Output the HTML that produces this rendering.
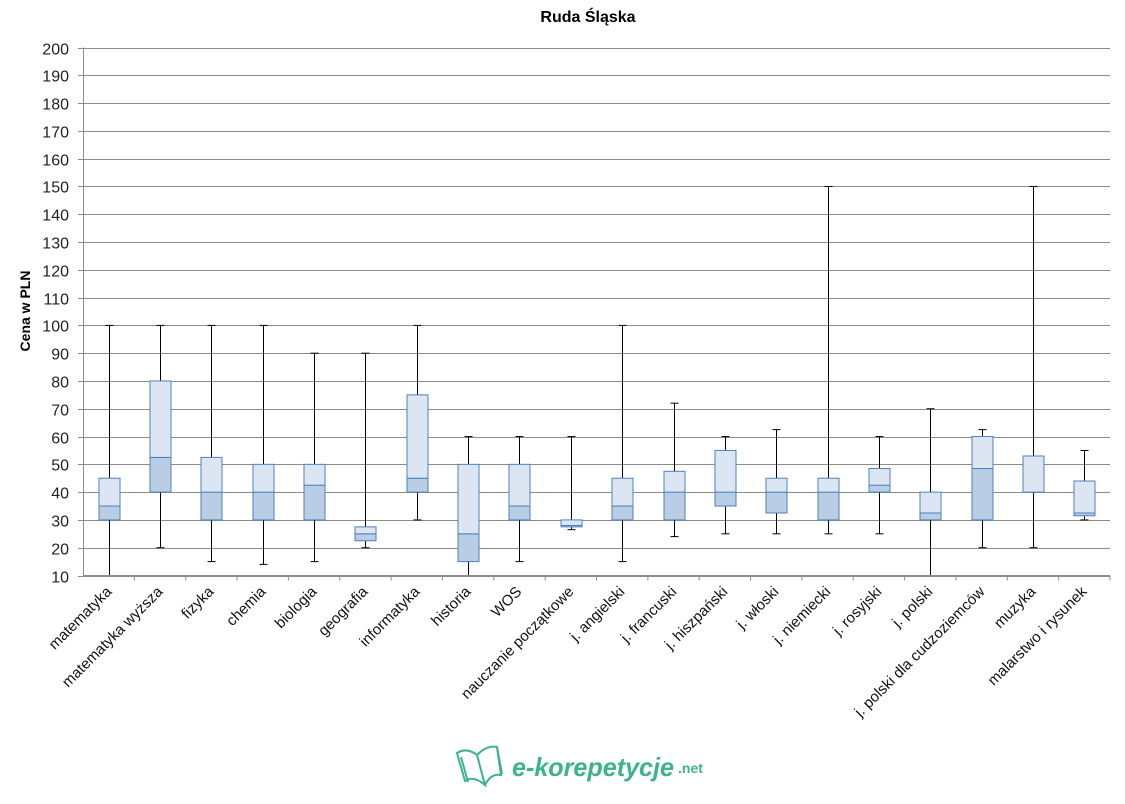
<!DOCTYPE html>
<html><head><meta charset="utf-8"><style>
body{margin:0;background:#fff}
text{font-family:"Liberation Sans",sans-serif}
</style></head><body>
<svg id="s" width="1125" height="799" xmlns="http://www.w3.org/2000/svg"></svg>
<script>
const s=document.getElementById('s');
const L=83,R=1110,T=47.5,B=575.5;
const y=v=>B-(v-10)*(B-T)/190;
let h='';
h+='<text x="588" y="22" text-anchor="middle" font-size="16" font-weight="bold">Ruda Śląska</text>';
h+='<text transform="translate(30,311) rotate(-90)" text-anchor="middle" font-size="14" font-weight="bold">Cena w PLN</text>';
for(let v=10;v<=200;v+=10){const yy=Math.round(y(v))+.5;
h+=`<line x1="${L}" x2="${R}" y1="${yy}" y2="${yy}" stroke="#8c8c8c" stroke-width="1"/>`;
h+=`<line x1="${L-5}" x2="${L}" y1="${yy}" y2="${yy}" stroke="#8c8c8c"/>`;
h+=`<text x="${L-14}" y="${yy+6}" text-anchor="end" font-size="16" fill="#222">${v}</text>`;}
h+=`<line x1="${L+.5}" x2="${L+.5}" y1="${T}" y2="${B}" stroke="#8c8c8c"/>`;
const d=[
["matematyka",10,30,35,45,100],["matematyka wyższa",20,40,52.5,80,100],["fizyka",15,30,40,52.5,100],
["chemia",14,30,40,50,100],["biologia",15,30,42.5,50,90],["geografia",20,22.5,25,27.5,90],
["informatyka",30,40,45,75,100],["historia",10,15,25,50,60],["WOS",15,30,35,50,60],
["nauczanie początkowe",26.5,27.5,28,30,60],["j. angielski",15,30,35,45,100],["j. francuski",24,30,40,47.5,72],
["j. hiszpański",25,35,40,55,60],["j. włoski",25,32.5,40,45,62.5],["j. niemiecki",25,30,40,45,150],
["j. rosyjski",25,40,42.5,48.5,60],["j. polski",10,30,32.5,40,70],["j. polski dla cudzoziemców",20,30,48.5,60,62.5],
["muzyka",20,40,40,53,150],["malarstwo i rysunek",30,31.5,32.5,44,55]];
const w=(R-L)/20;
d.forEach((r,i)=>{const c=Math.round(L+w*(i+.5))+.5;const tx=L+w*(i+1);
h+=`<line x1="${tx}" x2="${tx}" y1="${B}" y2="${B+5}" stroke="#8c8c8c"/>`;
const [n,mn,q1,md,q3,mx]=r;
h+=`<line x1="${c}" x2="${c}" y1="${y(mx)}" y2="${y(mn)}" stroke="#000"/>`;
h+=`<line x1="${c-4}" x2="${c+4}" y1="${y(mx)}" y2="${y(mx)}" stroke="#000"/>`;
h+=`<line x1="${c-4}" x2="${c+4}" y1="${y(mn)}" y2="${y(mn)}" stroke="#000"/>`;
h+=`<rect x="${c-10.5}" y="${y(md)}" width="21" height="${y(q1)-y(md)}" fill="#b9cde5" stroke="#4f81bd"/>`;
h+=`<rect x="${c-10.5}" y="${y(q3)}" width="21" height="${y(md)-y(q3)}" fill="#dce6f2" stroke="#4f81bd"/>`;
h+=`<text transform="translate(${c+3},${B+17}) rotate(-45)" text-anchor="end" font-size="15" fill="#111">${n}</text>`;
});
h+=`<line x1="${L}" x2="${R}" y1="${B}" y2="${B}" stroke="#8c8c8c"/>`;
// logo
h+='<g transform="translate(455,745)" stroke="#3db38a" fill="none" stroke-width="2"><path d="M2 8 L10 36 Q18 30 30 40 L22 10 Q12 2 2 8Z"/><path d="M30 40 Q36 28 46 30 L42 2 Q32 0 22 10"/><path d="M6 12 L13 37 M42 2 L47 29"/></g>';
h+='<text x="512" y="776" font-size="26" font-weight="bold" font-style="italic" fill="#3db38a" textLength="162" lengthAdjust="spacingAndGlyphs">e-korepetycje</text>';
h+='<text x="678" y="773" font-size="14" font-weight="bold" fill="#3db38a">.net</text>';
s.innerHTML=h;
</script>
</body></html>
